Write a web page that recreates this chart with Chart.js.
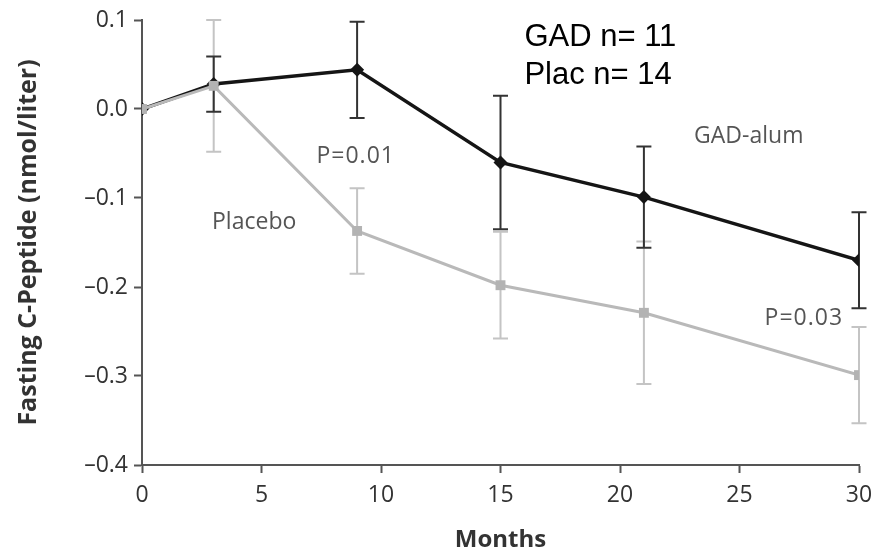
<!DOCTYPE html>
<html>
<head>
<meta charset="utf-8">
<script src="https://cdn.jsdelivr.net/npm/chart.js@4.4.1/dist/chart.umd.min.js"></script>
<style>
    body { margin: 0; background: #fff; }
    #wrap { width: 875px; height: 557px; }
</style>
</head>
<body>
<div id="wrap"><canvas id="chart" width="875" height="557"></canvas></div>
<script>
// Months of follow-up
const months = [0, 3, 9, 15, 21, 30]

// Change in fasting C-peptide (nmol/liter), mean and standard error
const gadMean = [0, 0.028, 0.044, -0.060, -0.099, -0.170]
const gadErr = [0, 0.031, 0.054, 0.075, 0.057, 0.054]
const placeboMean = [0, 0.026, -0.137, -0.198, -0.229, -0.299]
const placeboErr = [0, 0.074, 0.048, 0.060, 0.080, 0.054]

// Axis ticks
const xTicks = [0, 5, 10, 15, 20, 25, 30]
const yTicks = [0.1, 0.0, -0.1, -0.2, -0.3, -0.4]

// Text notes placed in data coordinates [month, value]
const notes = [
    { text: 'GAD n= 11', at: [16.0, 0.071], font: '31px "Liberation Sans", Arial', color: '#000' },
    { text: 'Plac n= 14', at: [16.0, 0.028], font: '31px "Liberation Sans", Arial', color: '#000' },
    { text: 'P=0.01', at: [7.3, -0.061], font: '23px "Open Sans"', color: '#555', spacing: '1px' },
    { text: 'Placebo', at: [2.93, -0.135], font: '23px "Open Sans"', color: '#555' },
    { text: 'GAD-alum', at: [23.1, -0.038], font: '23px "Open Sans"', color: '#555' },
    { text: 'P=0.03', at: [26.05, -0.243], font: '23px "Open Sans"', color: '#555', spacing: '1px' }
]

const toPoints = (means) => months.map((m, i) => ({ x: m, y: means[i] }))

// Vertical error bars with caps, drawn beneath the lines
const errorBars = {
    id: 'errorBars',
    beforeDatasetsDraw(chart) {
        const { ctx, scales: { x, y } } = chart
        const sets = [
            { mean: placeboMean, err: placeboErr, color: '#c4c4c4' },
            { mean: gadMean, err: gadErr, color: '#333' }
        ]
        ctx.save()
        ctx.lineWidth = 2
        sets.forEach(s => {
            ctx.strokeStyle = s.color
            months.forEach((m, i) => {
                if (!s.err[i]) return
                const px = x.getPixelForValue(m)
                const top = y.getPixelForValue(s.mean[i] + s.err[i])
                const bot = y.getPixelForValue(s.mean[i] - s.err[i])
                ctx.beginPath()
                ctx.moveTo(px, top)
                ctx.lineTo(px, bot)
                ctx.moveTo(px - 7.5, top)
                ctx.lineTo(px + 7.5, top)
                ctx.moveTo(px - 7.5, bot)
                ctx.lineTo(px + 7.5, bot)
                ctx.stroke()
            })
        })
        ctx.restore()
    }
}

const textNotes = {
    id: 'textNotes',
    afterDraw(chart) {
        const { ctx, scales: { x, y } } = chart
        ctx.save()
        ctx.textAlign = 'left'
        ctx.textBaseline = 'alphabetic'
        notes.forEach(n => {
            ctx.font = n.font
            ctx.fillStyle = n.color
            ctx.letterSpacing = n.spacing || '0px'
            ctx.fillText(n.text, x.getPixelForValue(n.at[0]), y.getPixelForValue(n.at[1]))
        })
        ctx.restore()
    }
}

const axisColor = '#555'

new Chart(document.getElementById('chart'), {
    type: 'line',
    data: {
        datasets: [{
            label: 'Placebo',
            data: toPoints(placeboMean),
            borderColor: '#b9b9b9',
            backgroundColor: '#b3b3b3',
            borderWidth: 3,
            pointStyle: 'rect',
            pointRadius: 7,
            pointBorderWidth: 0,
            tension: 0,
            order: 0
        }, {
            label: 'GAD-alum',
            data: toPoints(gadMean),
            borderColor: '#151515',
            backgroundColor: '#151515',
            borderWidth: 3.5,
            pointStyle: 'rectRot',
            pointRadius: 7,
            pointBorderWidth: 0,
            tension: 0,
            order: 1
        }]
    },
    options: {
        responsive: false,
        animation: false,
        layout: { padding: { left: 0, top: 20, right: 16, bottom: 0 } },
        plugins: {
            legend: { display: false },
            tooltip: { enabled: false }
        },
        scales: {
            x: {
                type: 'linear',
                min: 0,
                max: 30,
                afterFit: (scale) => {
                    scale.height = 92
                    scale.paddingLeft = 0
                    scale.paddingRight = 0
                },
                afterBuildTicks: (scale) => { scale.ticks = xTicks.map(v => ({ value: v })) },
                ticks: {
                    color: '#333',
                    font: { family: 'Open Sans', size: 23 },
                    padding: 9,
                    maxRotation: 0
                },
                grid: {
                    drawOnChartArea: false,
                    drawTicks: true,
                    tickLength: 8,
                    tickColor: axisColor,
                    tickWidth: 2
                },
                border: { display: true, color: axisColor, width: 2 },
                title: {
                    display: true,
                    text: 'Months',
                    color: '#333',
                    font: { family: 'Open Sans', size: 24, weight: 'bold' },
                    padding: { top: 0, bottom: 2 }
                }
            },
            y: {
                type: 'linear',
                min: -0.4,
                max: 0.1,
                afterFit: (scale) => {
                    scale.width = 142
                    scale.paddingTop = 0
                    scale.paddingBottom = 0
                },
                afterBuildTicks: (scale) => { scale.ticks = yTicks.map(v => ({ value: v })) },
                ticks: {
                    color: '#333',
                    font: { family: 'Open Sans', size: 23 },
                    padding: 6,
                    callback: (v) => Math.abs(v) < 1e-9 ? '0.0' : (v < 0 ? '\u2013' : '') + Math.abs(v).toFixed(1)
                },
                grid: {
                    drawOnChartArea: false,
                    drawTicks: true,
                    tickLength: 8,
                    tickColor: axisColor,
                    tickWidth: 2
                },
                border: { display: true, color: axisColor, width: 2 },
                title: {
                    display: true,
                    text: 'Fasting C-Peptide (nmol/liter)',
                    color: '#333',
                    font: { family: 'Open Sans', size: 25, weight: 'bold' },
                    padding: { top: 14, bottom: 0 }
                }
            }
        }
    },
    plugins: [errorBars, textNotes]
})
</script>
</body>
</html>
